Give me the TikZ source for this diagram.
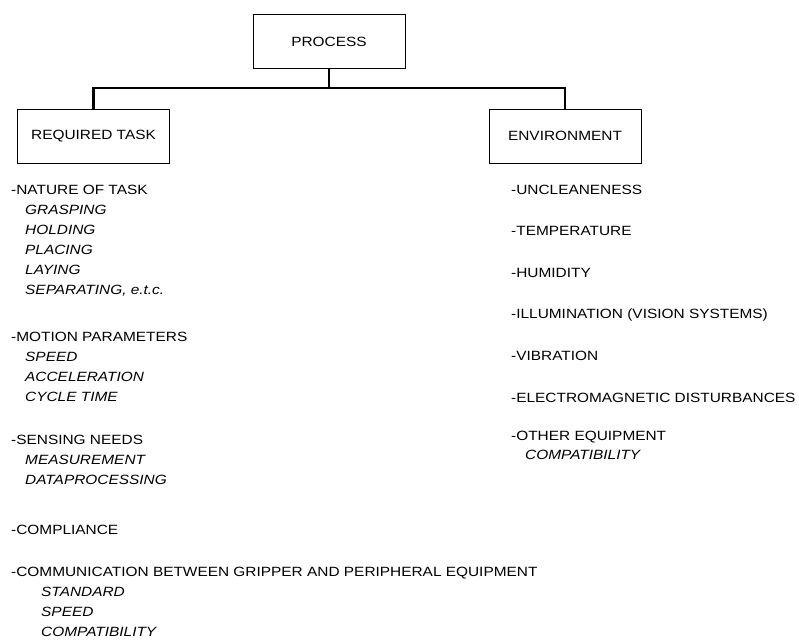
\documentclass[tikz,border=0pt]{standalone}
\usepackage{fontspec}
\setmainfont{Liberation Sans}[FakeStretch=1.15]
\begin{document}
\begin{tikzpicture}[x=1pt,y=-1pt,
  box/.style={draw,line width=0.9pt,rectangle,inner sep=0pt,minimum width=152pt,minimum height=54pt},
  item/.style={anchor=base west,inner sep=0pt},
  sub/.style={item,font=\fontsize{13.4}{16}\selectfont\itshape},
  link/.style={line width=2.6pt,line join=miter}]
\useasboundingbox (0,0) rectangle (799,640);
\tikzset{every node/.append style={font=\fontsize{13.4}{16}\selectfont}}

% tree boxes
\node[box] (proc) at (329,41.5) {PROCESS};
\node[box] (req)  at (93.5,136) {REQUIRED TASK};
\node[box] (env)  at (565,136) {ENVIRONMENT};

% connectors
\coordinate (bus) at (329,88);
\draw[link] (proc.south) -- (bus);
\draw[link] (req.north) |- (bus) -| (env.north);

% required task column
\node[item] (n1)  at (11,194.5) {-NATURE OF TASK};
\node[sub]  (n1a) at (25,214.5) {GRASPING};
\node[sub]  (n1b) at (25,234.5) {HOLDING};
\node[sub]  (n1c) at (25,254.5) {PLACING};
\node[sub]  (n1d) at (25,274.5) {LAYING};
\node[sub]  (n1e) at (25,294.5) {SEPARATING, e.t.c.};

\node[item] (n2)  at (11,341)   {-MOTION PARAMETERS};
\node[sub]  (n2a) at (25,361)   {SPEED};
\node[sub]  (n2b) at (25,381)   {ACCELERATION};
\node[sub]  (n2c) at (25,401)   {CYCLE TIME};

\node[item] (n3)  at (11,444.5) {-SENSING NEEDS};
\node[sub]  (n3a) at (25,464.5) {MEASUREMENT};
\node[sub]  (n3b) at (25,484.5) {DATAPROCESSING};

\node[item] (n4)  at (11,534.5) {-COMPLIANCE};

\node[item] (n5)  at (11,576.5) {-COMMUNICATION BETWEEN GRIPPER AND PERIPHERAL EQUIPMENT};
\node[sub]  (n5a) at (41,596.5) {STANDARD};
\node[sub]  (n5b) at (41,616.5) {SPEED};
\node[sub]  (n5c) at (41,636.5) {COMPATIBILITY};

% environment column
\node[item] (e1)  at (511,194)   {-UNCLEANENESS};
\node[item] (e2)  at (511,235.5) {-TEMPERATURE};
\node[item] (e3)  at (511,277)   {-HUMIDITY};
\node[item] (e4)  at (511,318.5) {-ILLUMINATION (VISION SYSTEMS)};
\node[item] (e5)  at (511,360.5) {-VIBRATION};
\node[item] (e6)  at (511,402)   {-ELECTROMAGNETIC DISTURBANCES};
\node[item] (e7)  at (511,440.5) {-OTHER EQUIPMENT};
\node[sub]  (e7a) at (525,459)   {COMPATIBILITY};
\end{tikzpicture}
\end{document}
